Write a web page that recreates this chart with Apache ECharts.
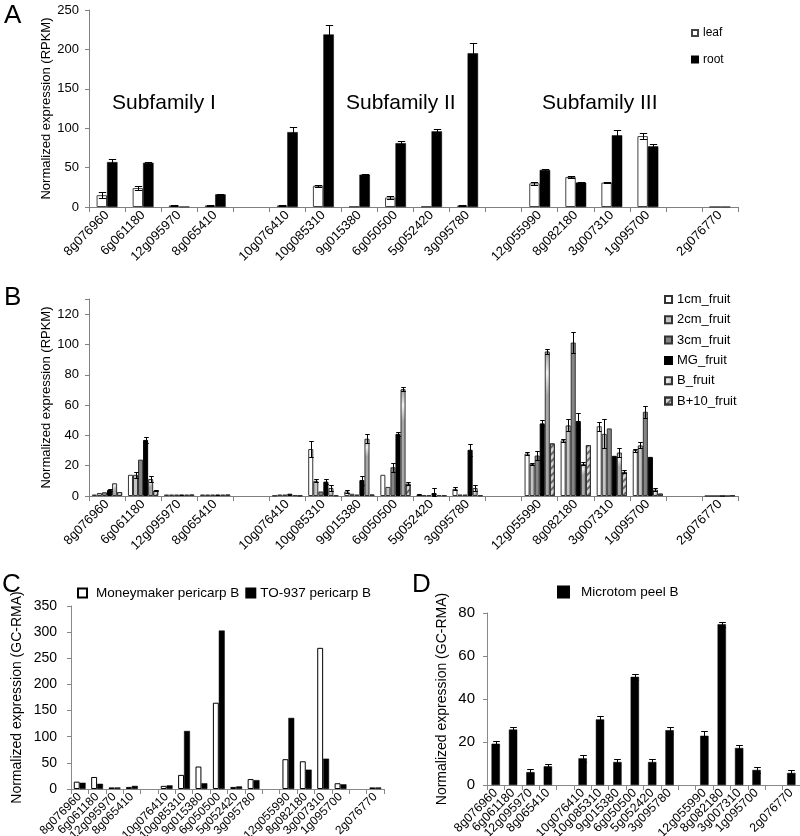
<!DOCTYPE html>
<html><head><meta charset="utf-8">
<script src="https://cdn.jsdelivr.net/npm/echarts@6/dist/echarts.min.js"></script>
<style>html,body{margin:0;padding:0;background:#fff}#c{width:800px;height:836px}</style>
</head><body><div id="c"></div>
<script>
// ---------- DATA ----------
const categories = ['8g076960','6g061180','12g095970','8g065410','','10g076410','10g085310','9g015380','6g050500','5g052420','3g095780',' ','12g055990','8g082180','3g007310','1g095700','  ','2g076770'];

// Panel A (RPKM)
const leafA    = [15, 24, 2, 2, null, 2, 27, 0.5, 12, 0.5, 2, null, 30, 38, 31, 90, null, 0];
const leafAErr = [4, 2.5, 0.5, 0.5, null, 0.5, 1, 0, 2, 0, 0.5, null, 2, 1, 0.5, 4, null, 0];
const rootA    = [57, 56, 0.5, 16, null, 95, 219, 41, 81, 96, 195, null, 47, 31, 91, 77, null, 0.3];
const rootAErr = [4, 1, 0, 1, null, 7, 12, 1, 3, 3.5, 13, null, 1, 0.5, 7, 3, null, 0];
const subfamilyLabels = ['Subfamily I', 'Subfamily II', 'Subfamily III'];

// Panel B (RPKM, fruit stages)
const cm1    = [1, 14, 1, 1, null, 0.3, 31, 3, 14, 1, 4.7, null, 28, 36.7, 46, 30.3, null, 0];
const cm1Err = [0, 0, 0, 0, null, 0, 5, 1, 0, 0.5, 1, null, 1, 1, 3, 1, null, 0];
const cm2    = [2, 14, 1, 1, null, 1, 10, 1.5, 6, 0.5, 1, null, 21.2, 46.6, 41, 33.4, null, 0];
const cm2Err = [0, 2, 0, 0, null, 0, 1, 0, 0, 0, 0, null, 0.5, 4, 9.5, 2, null, 0];
const cm3    = [2.5, 24, 1, 1, null, 1, 3, 1, 19, 0.5, 1, null, 26.7, 101.3, 44.6, 55.6, null, 0];
const cm3Err = [0, 0, 0, 0, null, 0, 0, 0, 3, 0, 0, null, 3, 7, 0, 4, null, 0];
const mgF    = [4, 37, 1, 1, null, 1.5, 9.5, 10.5, 41, 2, 30.5, null, 47.9, 49.5, 26.5, 25.8, null, 0];
const mgFErr = [0.5, 2, 0, 0, null, 0, 1.5, 3, 1.5, 3, 4, null, 2, 5, 0, 0, null, 0];
const bF     = [8.4, 11.2, 1, 1, null, 0.5, 5.3, 37.8, 70.5, 0.5, 5.3, null, 95.4, 21.2, 28.7, 4.2, null, 0];
const bFErr  = [0, 2, 0, 0, null, 0, 2, 3, 1.5, 0, 2, null, 1.5, 1, 3, 1, null, 0];
const b10F   = [2.6, 3.5, 1, 1, null, 0.3, 0.5, 1, 8.1, 0.5, 0.5, null, 34.7, 33.6, 15.9, 1.6, null, 0.4];
const b10FErr= [0, 0.5, 0, 0, null, 0, 0, 0, 1, 0, 0, null, 0, 0, 1, 0, null, 0];

// Panel C (GC-RMA)
const moneymaker = [14, 23, 3, 4, null, 6, 27, 43, 165, 4, 19, null, 57, 53, 270, 11, null, 3];
const to937      = [12, 10, 3, 6, null, 7, 111, 11, 303, 5, 17, null, 136, 37, 58, 9, null, 3];

// Panel D (GC-RMA)
const microtom    = [19.2, 25.8, 6, 8.7, null, 12.4, 30.5, 10.7, 50.3, 10.7, 25.5, null, 22.9, 74.8, 17.2, 7, null, 5.6];
const microtomErr = [1.2, 1.4, 1.6, 1.3, null, 1.5, 1.6, 1.6, 1.4, 1.6, 1.6, null, 2.1, 1.1, 1.2, 1.6, null, 1.5];

// ---------- CHART ----------
const FF = 'Liberation Sans, Arial, sans-serif';
const chart = echarts.init(document.getElementById('c'), null, {renderer:'canvas'});

function errSeries(gi, vals, errs, k, n, frac, capFrac) {
  const data = [];
  vals.forEach((v, i) => { if (v != null && errs[i]) data.push([i, v, errs[i]]); });
  return {
    type: 'custom', xAxisIndex: gi, yAxisIndex: gi, data, z: 5, silent: true,
    encode: {x: 0, y: 1},
    renderItem(params, api) {
      const i = api.value(0), v = api.value(1), e = api.value(2);
      const cw = api.size([1, 0])[0];
      const bw = cw * frac;
      const x = Math.round(api.coord([i, v])[0] + (k - (n - 1) / 2) * bw) + 0.5;
      const yt = Math.round(api.coord([i, v + e])[1]) + 0.5;
      const yb = Math.round(api.coord([i, Math.max(0, v - e)])[1]) + 0.5;
      const h = Math.max(2, bw * capFrac / 2);
      const st = {stroke: '#000', lineWidth: 1};
      return {type: 'group', children: [
        {type: 'line', shape: {x1: x, y1: yt, x2: x, y2: yb}, style: st},
        {type: 'line', shape: {x1: x - h, y1: yt, x2: x + h, y2: yt}, style: st},
        {type: 'line', shape: {x1: x - h, y1: yb, x2: x + h, y2: yb}, style: st}
      ]};
    }
  };
}

function xAxisCfg(gi, fs, axisColor) {
  return {
    type: 'category', gridIndex: gi, data: categories, boundaryGap: true,
    axisLine: {lineStyle: {color: axisColor, width: 1}},
    axisTick: {show: true, length: 5, lineStyle: {color: axisColor}},
    axisLabel: {rotate: 45, interval: 0, fontSize: fs, fontFamily: FF, color: '#000', margin: 6},
    splitLine: {show: false}
  };
}
function yAxisCfg(gi, max, interval, name, fs, nameFs, nameGap, margin, axisColor, hideAbove) {
  return {
    type: 'value', gridIndex: gi, min: 0, max, interval,
    name, nameLocation: 'middle', nameGap, nameMoveOverlap: false,
    nameTextStyle: {fontSize: nameFs, fontFamily: FF, color: '#000'},
    axisLine: {show: true, lineStyle: {color: axisColor, width: 1}},
    axisTick: {show: true, length: 4, lineStyle: {color: axisColor}},
    axisLabel: {fontSize: fs, fontFamily: FF, color: '#000', margin,
      formatter: v => (hideAbove != null && v > hideAbove) ? '' : String(v)},
    splitLine: {show: false}
  };
}

const fracA = 0.29, fracB = 0.14, fracC = 0.34, fracD = 0.48;
const whiteStyle = {color: '#fff', borderColor: '#444', borderWidth: 1};
const blackStyle = {color: '#000', borderColor: '#000', borderWidth: 0.5};

const bGrad = new echarts.graphic.LinearGradient(0, 0, 1, 0.3, [
  {offset: 0, color: '#9c9c9c'}, {offset: 0.5, color: '#f2f2f2'}, {offset: 1, color: '#a8a8a8'}]);

const series = [
  // A
  {type: 'bar', name: 'leaf', xAxisIndex: 0, yAxisIndex: 0, data: leafA, barWidth: (fracA*100)+'%', barGap: '0%', itemStyle: whiteStyle},
  {type: 'bar', name: 'root', xAxisIndex: 0, yAxisIndex: 0, data: rootA, barWidth: (fracA*100)+'%', barGap: '0%', itemStyle: blackStyle},
  errSeries(0, leafA, leafAErr, 0, 2, fracA, 0.7),
  errSeries(0, rootA, rootAErr, 1, 2, fracA, 0.7),
  // B
  {type: 'bar', name: '1cm_fruit', xAxisIndex: 1, yAxisIndex: 1, data: cm1, barWidth: (fracB*100)+'%', barGap: '0%', itemStyle: {color: '#fff', borderColor: '#333', borderWidth: 1}},
  {type: 'bar', name: '2cm_fruit', xAxisIndex: 1, yAxisIndex: 1, data: cm2, barWidth: (fracB*100)+'%', barGap: '0%', itemStyle: {color: '#c4c4c4', borderColor: '#333', borderWidth: 1}},
  {type: 'bar', name: '3cm_fruit', xAxisIndex: 1, yAxisIndex: 1, data: cm3, barWidth: (fracB*100)+'%', barGap: '0%', itemStyle: {color: '#858585', borderColor: '#333', borderWidth: 1}},
  {type: 'bar', name: 'MG_fruit', xAxisIndex: 1, yAxisIndex: 1, data: mgF, barWidth: (fracB*100)+'%', barGap: '0%', itemStyle: {color: '#000', borderColor: '#000', borderWidth: 1}},
  {type: 'bar', name: 'B_fruit', xAxisIndex: 1, yAxisIndex: 1, data: bF, barWidth: (fracB*100)+'%', barGap: '0%', itemStyle: {color: bGrad, borderColor: '#333', borderWidth: 1}},
  {type: 'bar', name: 'B+10_fruit', xAxisIndex: 1, yAxisIndex: 1, data: b10F, barWidth: (fracB*100)+'%', barGap: '0%',
    itemStyle: {color: '#d6d6d6', borderColor: '#333', borderWidth: 1,
      decal: {symbol: 'rect', symbolSize: 1, color: 'rgba(70,70,70,0.75)', dashArrayX: [1, 0], dashArrayY: [2, 3], rotation: -Math.PI / 4}}},
  errSeries(1, cm1, cm1Err, 0, 6, fracB, 0.9),
  errSeries(1, cm2, cm2Err, 1, 6, fracB, 0.9),
  errSeries(1, cm3, cm3Err, 2, 6, fracB, 0.9),
  errSeries(1, mgF, mgFErr, 3, 6, fracB, 0.9),
  errSeries(1, bF, bFErr, 4, 6, fracB, 0.9),
  errSeries(1, b10F, b10FErr, 5, 6, fracB, 0.9),
  // C
  {type: 'bar', name: 'Moneymaker pericarp B', xAxisIndex: 2, yAxisIndex: 2, data: moneymaker, barWidth: (fracC*100)+'%', barGap: '0%', itemStyle: {color: '#fff', borderColor: '#000', borderWidth: 1}},
  {type: 'bar', name: 'TO-937 pericarp B', xAxisIndex: 2, yAxisIndex: 2, data: to937, barWidth: (fracC*100)+'%', barGap: '0%', itemStyle: blackStyle},
  // D
  {type: 'bar', name: 'Microtom peel B', xAxisIndex: 3, yAxisIndex: 3, data: microtom, barWidth: (fracD*100)+'%', barGap: '0%', itemStyle: blackStyle},
  errSeries(3, microtom, microtomErr, 0, 1, fracD, 0.8)
];

const option = {
  animation: false,
  backgroundColor: '#fff',
  textStyle: {fontFamily: FF},
  grid: [
    {left: 89, top: 10, width: 649, height: 197, outerBoundsMode: 'none', containLabel: false},
    {left: 89, top: 299, width: 649, height: 197, outerBoundsMode: 'none', containLabel: false},
    {left: 71, top: 606, width: 313, height: 183, outerBoundsMode: 'none', containLabel: false},
    {left: 487, top: 613, width: 313, height: 172, outerBoundsMode: 'none', containLabel: false}
  ],
  xAxis: [
    xAxisCfg(0, 13, '#808080'),
    xAxisCfg(1, 13, '#808080'),
    xAxisCfg(2, 12, '#888'),
    xAxisCfg(3, 12.5, '#888')
  ],
  yAxis: [
    yAxisCfg(0, 250, 50, 'Normalized expression (RPKM)', 13, 13, 36, 10, '#808080'),
    yAxisCfg(1, 130, 20, 'Normalized expression (RPKM)', 13, 13, 36, 10, '#808080', 120),
    yAxisCfg(2, 350, 50, 'Normalized expression (GC-RMA)', 14, 14, 47, 14, '#888'),
    yAxisCfg(3, 80, 20, 'Normalized expression (GC-RMA)', 15, 14, 38, 12, '#888')
  ],
  legend: [
    {data: ['leaf', 'root'], orient: 'vertical', left: 691, top: 27, padding: 0, icon: 'rect', itemWidth: 6, itemHeight: 6, itemGap: 14.6,
      textStyle: {fontSize: 12, fontFamily: FF, color: '#000'}, selectedMode: false},
    {data: ['1cm_fruit', '2cm_fruit', '3cm_fruit', 'MG_fruit', 'B_fruit', 'B+10_fruit'], orient: 'vertical', left: 664, top: 293, padding: 0,
      icon: 'rect', itemWidth: 7, itemHeight: 7, itemGap: 7.3, textStyle: {fontSize: 13, fontFamily: FF, color: '#000'}, selectedMode: false},
    {data: [{name: 'Moneymaker pericarp B', textStyle: {padding: [0, 0, 0, 4]}}, 'TO-937 pericarp B'], orient: 'horizontal', left: 77, top: 586, padding: 0,
      icon: 'rect', itemWidth: 9, itemHeight: 9, itemGap: 6, textStyle: {fontSize: 13.5, fontFamily: FF, color: '#000'}, selectedMode: false},
    {data: [{name: 'Microtom peel B', textStyle: {padding: [0, 0, 0, 7]}}], orient: 'horizontal', left: 557, top: 585, padding: 0,
      icon: 'rect', itemWidth: 11, itemHeight: 11, textStyle: {fontSize: 13.5, fontFamily: FF, color: '#000'}, selectedMode: false}
  ],
  graphic: [
    {type: 'text', left: 4, top: 3, style: {text: 'A', font: '26px ' + FF, fill: '#000'}},
    {type: 'text', left: 4, top: 285, style: {text: 'B', font: '26px ' + FF, fill: '#000'}},
    {type: 'text', left: 2, top: 572, style: {text: 'C', font: '26px ' + FF, fill: '#000'}},
    {type: 'text', left: 412, top: 572, style: {text: 'D', font: '26px ' + FF, fill: '#000'}},
    {type: 'text', left: 112, top: 93, style: {text: subfamilyLabels[0], font: '21px ' + FF, fill: '#000'}},
    {type: 'text', left: 346, top: 93, style: {text: subfamilyLabels[1], font: '21px ' + FF, fill: '#000'}},
    {type: 'text', left: 542, top: 93, style: {text: subfamilyLabels[2], font: '21px ' + FF, fill: '#000'}}
  ],
  series
};
chart.setOption(option);
</script>
</body></html>
